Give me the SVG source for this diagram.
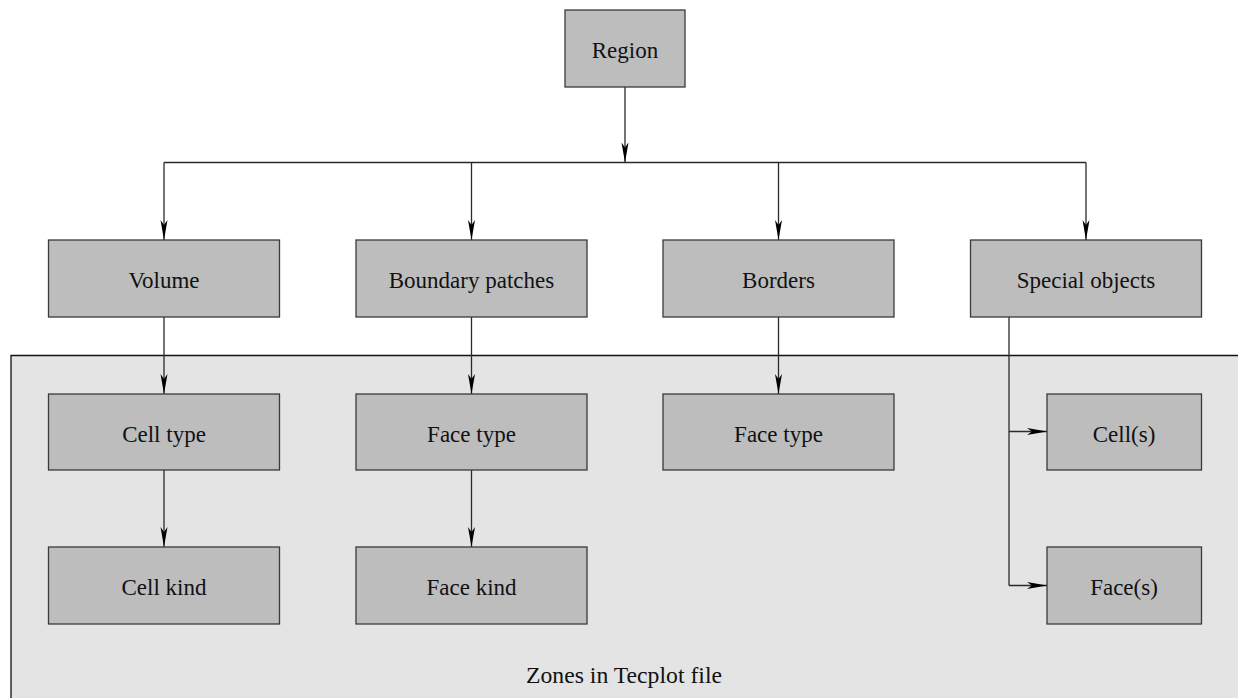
<svg xmlns="http://www.w3.org/2000/svg" width="1238" height="698" viewBox="0 0 1238 698">
  <style>
    .box { fill: #bdbdbd; stroke: #3a3a3a; stroke-width: 1.3; }
    .lbl { font-family: "Liberation Serif", "Times New Roman", serif; font-size: 23px; fill: #111; text-anchor: middle; }
    .wire { fill: none; stroke: #2a2a2a; stroke-width: 1.3; }
    .arr { marker-end: url(#head); }
  </style>
  <defs>
    <marker id="head" markerUnits="userSpaceOnUse" markerWidth="22" markerHeight="10" refX="20" refY="4.5" orient="auto" overflow="visible">
      <path d="M20,4.5 L0,1 L5,4.5 L0,8 Z" fill="#000"/>
    </marker>
  </defs>

  <rect width="1238" height="698" fill="#fff"/>

  <!-- Tecplot zones area -->
  <g id="zones">
    <rect x="11" y="355.5" width="1240" height="360" fill="#e4e4e4"/>
    <path d="M11,698 V355.5 H1238" fill="none" stroke="#111" stroke-width="1.3"/>
    <text class="lbl" x="624" y="683" textLength="196" lengthAdjust="spacingAndGlyphs">Zones in Tecplot file</text>
  </g>

  <!-- connectors -->
  <g id="connectors">
    <path class="wire arr" d="M625,87 V162.5"/>
    <path class="wire" d="M164,162.5 H1086"/>
    <path class="wire arr" d="M164,162.5 V240"/>
    <path class="wire arr" d="M471.5,162.5 V240"/>
    <path class="wire arr" d="M778.5,162.5 V240"/>
    <path class="wire arr" d="M1086,162.5 V240"/>
    <path class="wire arr" d="M164,317 V394"/>
    <path class="wire arr" d="M471.5,317 V394"/>
    <path class="wire arr" d="M778.5,317 V394"/>
    <path class="wire arr" d="M164,470 V547"/>
    <path class="wire arr" d="M471.5,470 V547"/>
    <path class="wire" d="M1009,317 V585.5"/>
    <path class="wire arr" d="M1009,431.5 H1047"/>
    <path class="wire arr" d="M1009,585.5 H1047"/>
  </g>

  <g id="region">
    <rect class="box" x="565" y="10" width="120" height="77"/>
    <text class="lbl" x="625" y="58">Region</text>
  </g>

  <g id="volume">
    <rect class="box" x="48.5" y="240" width="231" height="77"/>
    <text class="lbl" x="164" y="288">Volume</text>
  </g>
  <g id="boundary-patches">
    <rect class="box" x="356" y="240" width="231" height="77"/>
    <text class="lbl" x="471.5" y="288">Boundary patches</text>
  </g>
  <g id="borders">
    <rect class="box" x="663" y="240" width="231" height="77"/>
    <text class="lbl" x="778.5" y="288">Borders</text>
  </g>
  <g id="special-objects">
    <rect class="box" x="970.5" y="240" width="231" height="77"/>
    <text class="lbl" x="1086" y="288">Special objects</text>
  </g>

  <g id="cell-type">
    <rect class="box" x="48.5" y="394" width="231" height="76"/>
    <text class="lbl" x="164" y="441.5">Cell type</text>
  </g>
  <g id="face-type-patches">
    <rect class="box" x="356" y="394" width="231" height="76"/>
    <text class="lbl" x="471.5" y="441.5">Face type</text>
  </g>
  <g id="face-type-borders">
    <rect class="box" x="663" y="394" width="231" height="76"/>
    <text class="lbl" x="778.5" y="441.5">Face type</text>
  </g>
  <g id="cells">
    <rect class="box" x="1047" y="394" width="154.5" height="76"/>
    <text class="lbl" x="1124" y="441.5">Cell(s)</text>
  </g>

  <g id="cell-kind">
    <rect class="box" x="48.5" y="547" width="231" height="77"/>
    <text class="lbl" x="164" y="595">Cell kind</text>
  </g>
  <g id="face-kind">
    <rect class="box" x="356" y="547" width="231" height="77"/>
    <text class="lbl" x="471.5" y="595">Face kind</text>
  </g>
  <g id="faces">
    <rect class="box" x="1047" y="547" width="154.5" height="77"/>
    <text class="lbl" x="1124" y="595">Face(s)</text>
  </g>
</svg>
